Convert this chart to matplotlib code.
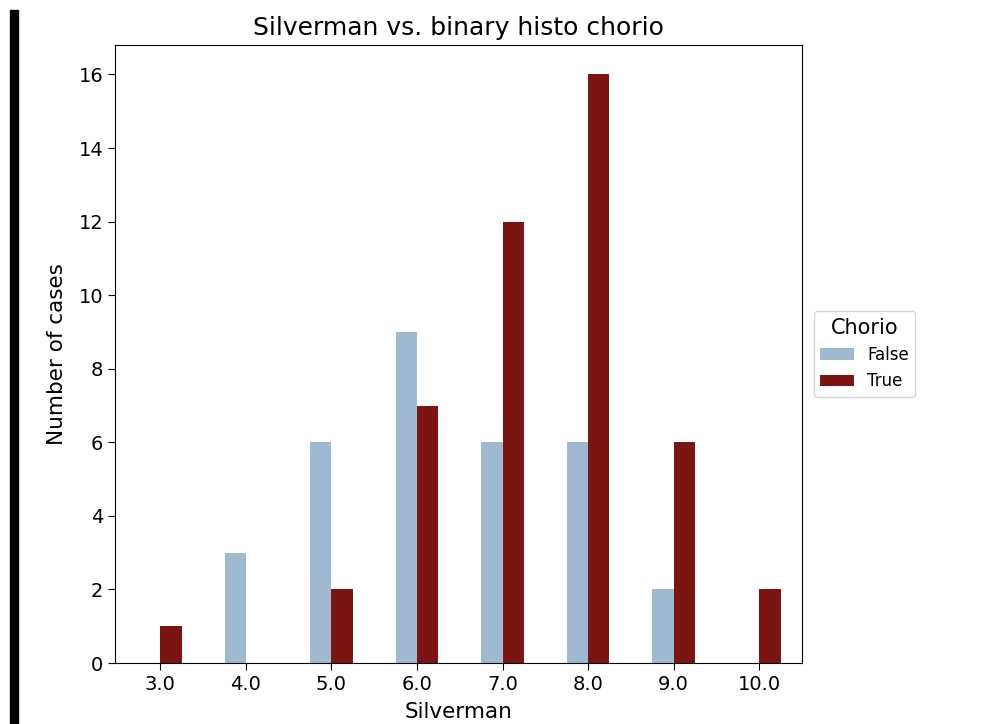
import matplotlib
matplotlib.use('Agg')
import matplotlib.pyplot as plt
import numpy as np
from matplotlib.patches import Rectangle

silverman = ['3.0', '4.0', '5.0', '6.0', '7.0', '8.0', '9.0', '10.0']
count_false = [0, 3, 6, 9, 6, 6, 2, 0]
count_true = [1, 0, 2, 7, 12, 16, 6, 2]
COLORS = {'False': '#9fb9d2', 'True': '#7a1511'}

fig = plt.figure(figsize=(9.88, 7.24), dpi=100)
ax = fig.add_axes([0.1164, 0.0842, 0.6953, 0.8536])

x = np.arange(len(silverman))
w = 0.25
ax.bar(x - w / 2, count_false, width=w, color=COLORS['False'], label='False')
ax.bar(x + w / 2, count_true, width=w, color=COLORS['True'], label='True')

ax.set_xlim(-0.53, 7.5)
ax.set_ylim(0, 16.8)
ax.set_xticks(x)
ax.set_xticklabels(silverman, fontsize=14)
ax.tick_params(axis='both', labelsize=14, length=5)
ax.set_xlabel('Silverman', fontsize=15.5, labelpad=6)
ax.set_ylabel('Number of cases', fontsize=15.5, labelpad=8)
ax.set_title('Silverman vs. binary histo chorio', fontsize=18, pad=7)

leg = ax.legend(title='Chorio', loc='center left', bbox_to_anchor=(1.005, 0.5),
                fontsize=12, title_fontsize=15)

# black strip at the left edge of the screenshot
fig.patches.append(Rectangle((0.0101, 0.0), 0.0081, 0.986, transform=fig.transFigure,
                             color='black', zorder=10))

fig.savefig('out.png', dpi=100)
